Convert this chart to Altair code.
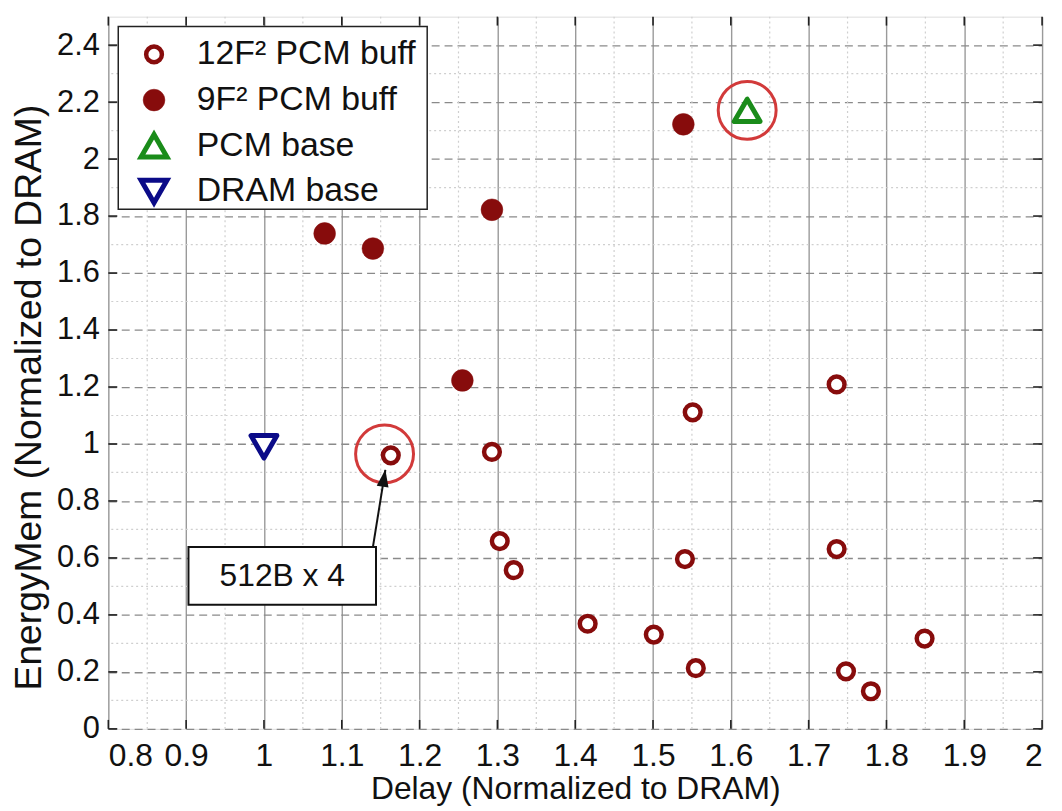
import altair as alt
import pandas as pd

# ---------------- data ----------------
series_names = ["12F² PCM buff", "9F² PCM buff", "PCM base", "DRAM base"]

pcm12_delay = [1.163, 1.293, 1.303, 1.321, 1.416, 1.501, 1.541, 1.551, 1.555,
               1.736, 1.736, 1.748, 1.780, 1.849]
pcm12_energy = [0.960, 0.972, 0.659, 0.557, 0.369, 0.331, 0.596, 1.111, 0.213,
                1.209, 0.631, 0.202, 0.132, 0.317]

pcm9_delay = [1.078, 1.140, 1.293, 1.255, 1.539]
pcm9_energy = [1.739, 1.686, 1.822, 1.223, 2.122]

pcm_base_delay = [1.621]
pcm_base_energy = [2.171]

dram_base_delay = [1.000]
dram_base_energy = [0.990]

highlight_delay = [1.621, 1.155]
highlight_energy = [2.171, 0.965]

annot_text = ["512B x 4"]
annot_box_x = [0.903]
annot_box_x2 = [1.144]
annot_box_y = [0.436]
annot_box_y2 = [0.638]
annot_text_x = [1.0235]
annot_text_y = [0.537]
arrow_from_x = [1.140]
arrow_from_y = [0.638]
arrow_to_x = [1.156]
arrow_to_y = [0.909]
arrow_head_x = [1.154]
arrow_head_y = [0.876]

x_ticks = [0.8, 0.9, 1.0, 1.1, 1.2, 1.3, 1.4, 1.5, 1.6, 1.7, 1.8, 1.9, 2.0]
y_ticks = [0.0, 0.2, 0.4, 0.6, 0.8, 1.0, 1.2, 1.4, 1.6, 1.8, 2.0, 2.2, 2.4]
x_minor = [0.85, 0.95, 1.05, 1.15, 1.25, 1.35, 1.45, 1.55, 1.65, 1.75, 1.85, 1.95]
y_minor = [0.1, 0.3, 0.5, 0.7, 0.9, 1.1, 1.3, 1.5, 1.7, 1.9, 2.1, 2.3]

# ---------------- tables ----------------
rows = []
for xs, ys, name in [(pcm12_delay, pcm12_energy, series_names[0]),
                     (pcm9_delay, pcm9_energy, series_names[1]),
                     (pcm_base_delay, pcm_base_energy, series_names[2]),
                     (dram_base_delay, dram_base_energy, series_names[3])]:
    for a, b in zip(xs, ys):
        rows.append({"delay": a, "energy": b, "series": name})
points_df = pd.DataFrame(rows)

FONT = "Liberation Sans"
DARKRED = "#870c0c"
GREEN = "#1a8c1a"
NAVY = "#0b0b88"
W, H = 940, 717

xscale = alt.Scale(domain=[0.8, 2.0], nice=False, zero=False)
yscale = alt.Scale(domain=[0, 2.5], nice=False, zero=False)

xaxis = alt.Axis(values=x_ticks, format="~g", title="Delay (Normalized to DRAM)",
                 grid=True, gridColor="#9a9a9a", gridWidth=1.4,
                 tickSize=0, domain=False, labelFontSize=32, labelPadding=12,
                 labelColor="#111", labelFont=FONT,
                 titleFontSize=32, titleFontWeight="normal", titleFont=FONT,
                 titleColor="#111", titleX=470, titleY=70,
                 titleBaseline="alphabetic", titleAlign="center")
yaxis = alt.Axis(values=y_ticks, format="~g", title="EnergyMem (Normalized to DRAM)",
                 grid=True, gridColor="#8a8a8a", gridWidth=1.3, gridDash=[8, 5],
                 tickSize=0, domain=False, labelFontSize=31, labelPadding=9,
                 labelColor="#111", labelFont=FONT,
                 titleFontSize=37.5, titleFontWeight="normal", titleFont=FONT,
                 titleColor="#111", titleX=-79, titleY=383, titleAngle=-90,
                 titleBaseline="middle", titleAlign="center")

X = lambda f: alt.X(f, type="quantitative", scale=xscale, axis=xaxis)
Y = lambda f: alt.Y(f, type="quantitative", scale=yscale, axis=yaxis)

# minor dotted grid
minor_x = alt.Chart(pd.DataFrame({"delay": x_minor})).mark_rule(
    color="#cfcfcf", strokeWidth=1.2, strokeDash=[2, 3]
).encode(x=X("delay"))
minor_y = alt.Chart(pd.DataFrame({"energy": y_minor})).mark_rule(
    color="#cfcfcf", strokeWidth=1.2, strokeDash=[2, 3]
).encode(y=Y("energy"))

# inward ticks on the frame
xt_df = pd.DataFrame({"delay": x_ticks})
yt_df = pd.DataFrame({"energy": y_ticks})
tick_style = dict(color="#222", strokeWidth=1.6)
ticks_top = alt.Chart(xt_df).mark_rule(**tick_style).encode(
    x=X("delay"), y=alt.value(0), y2=alt.value(9))
ticks_bottom = alt.Chart(xt_df).mark_rule(**tick_style).encode(
    x=X("delay"), y=alt.value(H - 9), y2=alt.value(H))
ticks_left = alt.Chart(yt_df).mark_rule(**tick_style).encode(
    y=Y("energy"), x=alt.value(0), x2=alt.value(9))
ticks_right = alt.Chart(yt_df).mark_rule(**tick_style).encode(
    y=Y("energy"), x=alt.value(W - 9), x2=alt.value(W))

# legend frame (drawn as a box behind the legend entries)
legend_frame = alt.Chart(pd.DataFrame({"k": [0]})).mark_rect(
    fill="white", stroke="#222", strokeWidth=1.5
).encode(x=alt.value(10), x2=alt.value(321), y=alt.value(10), y2=alt.value(194))

legend = alt.Legend(orient="none", legendX=10, legendY=19, title=None,
                    labelFontSize=34, labelFont=FONT, labelColor="#111",
                    labelLimit=500, labelOffset=26, padding=2, rowPadding=2,
                    gridAlign="all", symbolOffset=17)

pts = alt.Chart(points_df).mark_point(filled=True, opacity=1, strokeJoin="round").encode(
    x=X("delay"),
    y=Y("energy"),
    fill=alt.Fill("series:N", title=None, legend=legend,
                  scale=alt.Scale(domain=series_names,
                                  range=["white", DARKRED, "white", "white"])),
    stroke=alt.Stroke("series:N", title=None,
                      scale=alt.Scale(domain=series_names,
                                      range=[DARKRED, DARKRED, GREEN, NAVY])),
    shape=alt.Shape("series:N", title=None,
                    scale=alt.Scale(domain=series_names,
                                    range=["circle", "circle", "triangle-up", "triangle-down"])),
    size=alt.Size("series:N", title=None,
                  scale=alt.Scale(type="ordinal", domain=series_names,
                                  range=[250, 480, 680, 680])),
    strokeWidth=alt.StrokeWidth("series:N", title=None,
                                scale=alt.Scale(type="ordinal", domain=series_names,
                                                range=[4.5, 0.5, 5, 5])),
)

highlight = alt.Chart(pd.DataFrame({"delay": highlight_delay, "energy": highlight_energy})).mark_point(
    shape="circle", size=3400, filled=False, stroke="#d23a3a", strokeWidth=3, opacity=1
).encode(x=X("delay"), y=Y("energy"))

annot_df = pd.DataFrame({
    "bx": annot_box_x, "bx2": annot_box_x2, "by": annot_box_y, "by2": annot_box_y2,
    "tx": annot_text_x, "ty": annot_text_y, "label": annot_text,
    "ax": arrow_from_x, "ay": arrow_from_y, "ax2": arrow_to_x, "ay2": arrow_to_y,
    "hx": arrow_head_x, "hy": arrow_head_y,
})

arrow = alt.Chart(annot_df).mark_rule(color="#111", strokeWidth=2).encode(
    x=X("ax"), y=Y("ay"), x2="ax2", y2="ay2")
head = alt.Chart(annot_df).mark_point(
    shape="M0,-1L-0.6,0.75L0.6,0.75Z", filled=True, color="#111", size=400, angle=9, opacity=1
).encode(x=X("hx"), y=Y("hy"))
box = alt.Chart(annot_df).mark_rect(fill="white", stroke="#111", strokeWidth=2).encode(
    x=X("bx"), x2="bx2", y=Y("by"), y2="by2")
text = alt.Chart(annot_df).mark_text(font=FONT, fontSize=32, color="#111",
                                      align="center", baseline="middle").encode(
    x=X("tx"), y=Y("ty"), text="label:N")

chart = alt.layer(minor_x, minor_y, ticks_top, ticks_bottom, ticks_left, ticks_right,
                  legend_frame, pts, highlight, arrow, box, text, head).properties(
    width=W, height=H,
    autosize=alt.AutoSizeParams(type="none"),
    padding={"left": 101, "top": 6, "right": 12, "bottom": 80},
).configure_view(stroke="#222", strokeWidth=1.5).configure(font=FONT)

chart.save("out.html", embed_options={"renderer": "svg", "actions": False})
